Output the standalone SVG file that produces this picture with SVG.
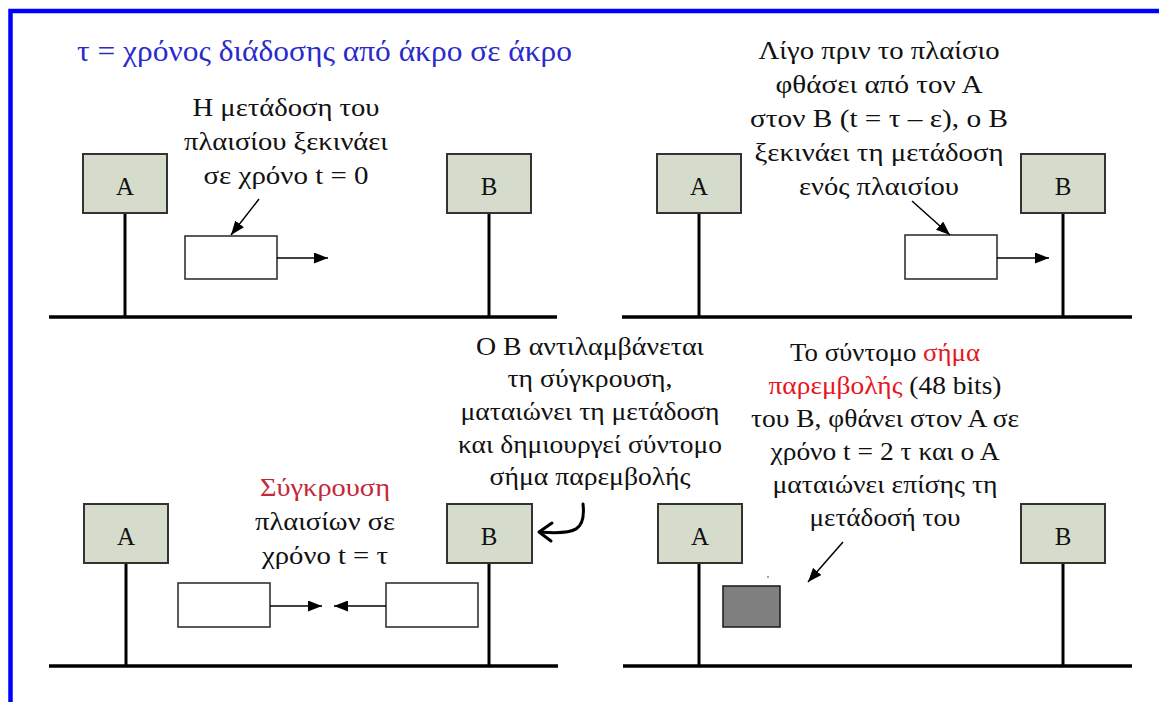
<svg xmlns="http://www.w3.org/2000/svg" width="1159" height="702" viewBox="0 0 1159 702">
<defs>
<style>
.t{font-size:26px;fill:#111;text-anchor:middle}
.ttl{font-size:29px;fill:#2b2bcc}
.lbl{font-size:25px;fill:#111;text-anchor:middle}
.st{fill:#d6dccc;stroke:#333;stroke-width:2}
.fr{fill:#fff;stroke:#333;stroke-width:1.6}
.bus{stroke:#000;stroke-width:3.5;fill:none}
.drop{stroke:#000;stroke-width:3;fill:none}
.ar{stroke:#000;stroke-width:1.5;fill:none;marker-end:url(#ah)}
.red1{fill:#c4283a}
.red2{fill:#e8141e}
</style>
<marker id="ah" viewBox="0 0 14 11" refX="14" refY="5.5" markerWidth="14" markerHeight="11" markerUnits="userSpaceOnUse" orient="auto"><path d="M0,0 L14,5.5 L0,11 z" fill="#000"/></marker>
</defs>
<rect x="0" y="0" width="1159" height="702" fill="#fff"/>
<rect id="border" x="10.5" y="11" width="1200" height="760" fill="none" stroke="#0000ff" stroke-width="4.5"/>

<g font-family="Liberation Serif, Times New Roman, serif">
<text class="ttl" x="77" y="61" textLength="495" lengthAdjust="spacingAndGlyphs">τ = χρόνος διάδοσης από άκρο σε άκρο</text>

<!-- Panel 1 -->
<g id="p1-bus"><line class="bus" x1="49" y1="317" x2="557" y2="317"/><line class="drop" x1="125" y1="213" x2="125" y2="317"/><line class="drop" x1="489" y1="213" x2="489" y2="317"/></g>
<g id="p1-A"><rect class="st" x="83" y="154" width="84" height="59"/><text class="lbl" x="125" y="195">A</text></g>
<g id="p1-B"><rect class="st" x="447" y="154" width="84" height="59"/><text class="lbl" x="489" y="195">B</text></g>
<g id="p1-frame"><rect class="fr" x="185" y="236" width="92" height="43"/></g>
<g id="p1-text"><text class="t" x="286" y="116" textLength="187" lengthAdjust="spacingAndGlyphs">Η μετάδοση του</text><text class="t" x="286" y="150" textLength="204" lengthAdjust="spacingAndGlyphs">πλαισίου ξεκινάει</text><text class="t" x="286" y="184" textLength="165" lengthAdjust="spacingAndGlyphs">σε χρόνο t = 0</text></g>

<!-- Panel 2 -->
<g id="p2-bus"><line class="bus" x1="622" y1="317" x2="1132" y2="317"/><line class="drop" x1="699" y1="213" x2="699" y2="317"/><line class="drop" x1="1063" y1="213" x2="1063" y2="317"/></g>
<g id="p2-A"><rect class="st" x="657" y="154" width="84" height="59"/><text class="lbl" x="699" y="195">A</text></g>
<g id="p2-B"><rect class="st" x="1021" y="154" width="84" height="59"/><text class="lbl" x="1063" y="195">B</text></g>
<g id="p2-frame"><rect class="fr" x="905" y="235" width="92" height="44"/></g>
<g id="p2-text"><text class="t" x="879" y="59" textLength="241" lengthAdjust="spacingAndGlyphs">Λίγο πριν το πλαίσιο</text><text class="t" x="879" y="93" textLength="207" lengthAdjust="spacingAndGlyphs">φθάσει από τον Α</text><text class="t" x="879" y="127" textLength="258" lengthAdjust="spacingAndGlyphs">στον Β (t = τ – ε),  ο Β</text><text class="t" x="879" y="161" textLength="249" lengthAdjust="spacingAndGlyphs">ξεκινάει τη μετάδοση</text><text class="t" x="879" y="195" textLength="160" lengthAdjust="spacingAndGlyphs">ενός πλαισίου</text></g>

<!-- Panel 3 -->
<g id="p3-bus"><line class="bus" x1="49" y1="666" x2="558" y2="666"/><line class="drop" x1="126" y1="563" x2="126" y2="666"/><line class="drop" x1="489" y1="563" x2="489" y2="666"/></g>
<g id="p3-A"><rect class="st" x="84" y="504" width="84" height="59"/><text class="lbl" x="126" y="545">A</text></g>
<g id="p3-B"><rect class="st" x="447" y="504" width="85" height="59"/><text class="lbl" x="489" y="545">B</text></g>
<g id="p3-frame1"><rect class="fr" x="178" y="583" width="92" height="44"/></g>
<g id="p3-frame2"><rect class="fr" x="386" y="583" width="92" height="44"/></g>
<g id="p3-text"><text class="t" x="325" y="496" textLength="130" lengthAdjust="spacingAndGlyphs"><tspan class="red1">Σύγκρουση</tspan></text><text class="t" x="325" y="530" textLength="140" lengthAdjust="spacingAndGlyphs">πλαισίων σε</text><text class="t" x="325" y="564" textLength="126" lengthAdjust="spacingAndGlyphs">χρόνο t = τ</text></g>
<g id="p3-note"><text class="t" x="590" y="355" textLength="228" lengthAdjust="spacingAndGlyphs">Ο Β αντιλαμβάνεται</text><text class="t" x="590" y="387" textLength="165" lengthAdjust="spacingAndGlyphs">τη σύγκρουση,</text><text class="t" x="590" y="420" textLength="259" lengthAdjust="spacingAndGlyphs">ματαιώνει τη μετάδοση</text><text class="t" x="590" y="453" textLength="264" lengthAdjust="spacingAndGlyphs">και δημιουργεί σύντομο</text><text class="t" x="590" y="485" textLength="201" lengthAdjust="spacingAndGlyphs">σήμα παρεμβολής</text></g>

<!-- Panel 4 -->
<g id="p4-bus"><line class="bus" x1="623" y1="666" x2="1132" y2="666"/><line class="drop" x1="699" y1="563" x2="699" y2="666"/><line class="drop" x1="1063" y1="563" x2="1063" y2="666"/></g>
<g id="p4-A"><rect class="st" x="658" y="504" width="84" height="59"/><text class="lbl" x="700" y="545">A</text></g>
<g id="p4-B"><rect class="st" x="1021" y="504" width="84" height="59"/><text class="lbl" x="1063" y="545">B</text></g>
<g id="p4-jam"><rect x="723" y="586" width="57" height="41" fill="#7f7f7f" stroke="#222" stroke-width="1.6"/><circle cx="768" cy="577" r="1" fill="#888"/></g>
<g id="p4-text"><text class="t" x="885" y="361" textLength="190" lengthAdjust="spacingAndGlyphs">Το σύντομο <tspan class="red2">σήμα</tspan></text><text class="t" x="885" y="394" textLength="233" lengthAdjust="spacingAndGlyphs"><tspan class="red2">παρεμβολής</tspan> (48 bits)</text><text class="t" x="885" y="427" textLength="268" lengthAdjust="spacingAndGlyphs">του Β, φθάνει στον Α σε</text><text class="t" x="885" y="460" textLength="229" lengthAdjust="spacingAndGlyphs">χρόνο t = 2 τ και ο Α</text><text class="t" x="885" y="493" textLength="225" lengthAdjust="spacingAndGlyphs">ματαιώνει επίσης τη</text><text class="t" x="885" y="526" textLength="151" lengthAdjust="spacingAndGlyphs">μετάδοσή του</text></g>
</g>

<!-- Connectors -->
<g id="connectors">
<line class="ar" x1="277" y1="258" x2="328" y2="258"/>
<line class="ar" x1="259" y1="199" x2="231" y2="235"/>
<line class="ar" x1="997" y1="258" x2="1049" y2="258"/>
<line class="ar" x1="912" y1="201" x2="950" y2="235"/>
<line class="ar" x1="270" y1="606" x2="322" y2="606"/>
<line class="ar" x1="386" y1="606" x2="334" y2="606"/>
<line class="ar" x1="843" y1="542" x2="808" y2="582"/>
<path d="M583,504 C586,530 576,535 540,532" fill="none" stroke="#000" stroke-width="3" stroke-linecap="round"/>
<polyline points="552,523 539,532 551,541" fill="none" stroke="#000" stroke-width="3" stroke-linecap="round" stroke-linejoin="round"/>
</g>
</svg>
